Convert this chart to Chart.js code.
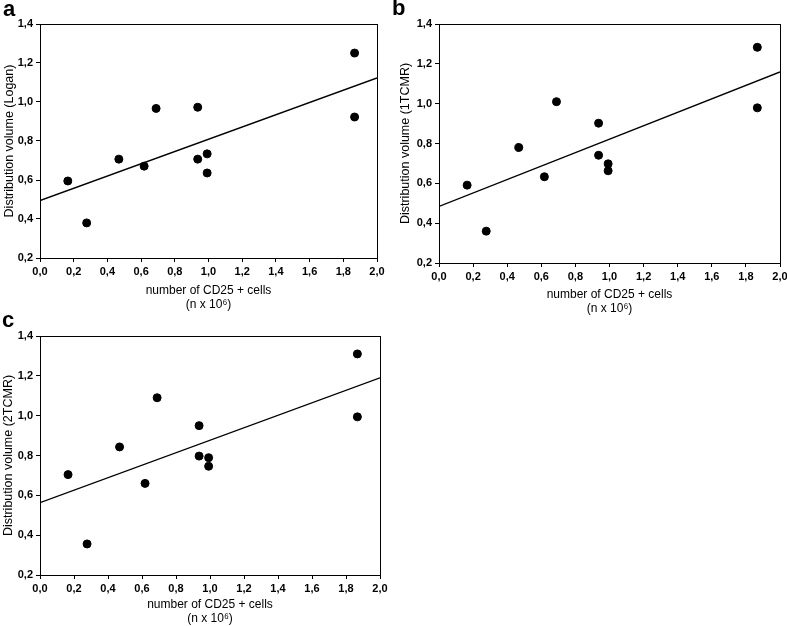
<!DOCTYPE html>
<html>
<head>
<meta charset="utf-8">
<script src="https://cdn.jsdelivr.net/npm/chart.js@4.4.1/dist/chart.umd.min.js"></script>
<style>
  body { margin: 0; background: #fff; }
  #wrap { position: relative; width: 787px; height: 626px; overflow: hidden; }
  canvas { position: absolute; }
  .tag { position: absolute; font: bold 22px "Liberation Sans", Arial, sans-serif; line-height: 22px; color: #000; }
</style>
</head>
<body>
<div id="wrap">
  <canvas id="chartA" width="392" height="312" style="left:0;top:0"></canvas>
  <canvas id="chartB" width="395" height="316" style="left:392px;top:0"></canvas>
  <canvas id="chartC" width="392" height="308" style="left:0;top:318px"></canvas>
  <div class="tag" style="left:3px;top:-2px">a</div>
  <div class="tag" style="left:392px;top:-3px">b</div>
  <div class="tag" style="left:2px;top:309px">c</div>
</div>
<script>
// number of CD25+ cells (n x 10^6), same patients in every panel
const cd25Cells = [0.165, 0.277, 0.468, 0.618, 0.689, 0.936, 0.936, 0.992, 0.992, 1.867, 1.867];

// distribution volumes
const dvLogan = [0.595, 0.380, 0.707, 0.671, 0.967, 0.973, 0.707, 0.734, 0.636, 1.251, 0.923];
const dv1TCMR = [0.591, 0.360, 0.780, 0.633, 1.010, 0.902, 0.741, 0.698, 0.663, 1.283, 0.979];
const dv2TCMR = [0.704, 0.356, 0.843, 0.660, 1.090, 0.950, 0.797, 0.789, 0.746, 1.310, 0.994];

// regression lines (ends at x = 0 and x = 2)
const fitX = [0, 2];
const fitLogan = [0.495, 1.123];
const fit1TCMR = [0.484, 1.159];
const fit2TCMR = [0.563, 1.190];

const xTickVals = [0, 0.2, 0.4, 0.6, 0.8, 1.0, 1.2, 1.4, 1.6, 1.8, 2.0];
const xTickLabels = ['0,0', '0,2', '0,4', '0,6', '0,8', '1,0', '1,2', '1,4', '1,6', '1,8', '2,0'];
const yTickVals = [0.2, 0.4, 0.6, 0.8, 1.0, 1.2, 1.4];
const yTickLabels = ['0,2', '0,4', '0,6', '0,8', '1,0', '1,2', '1,4'];

const xTitle = ['number of CD25 + cells', '(n x 10\u2076)'];
const FONT = '"Liberation Sans", Arial, sans-serif';

// draws the closed frame round the plot area
const frame = {
    id: 'frame',
    afterDraw(chart) {
        const a = chart.chartArea;
        const ctx = chart.ctx;
        ctx.save();
        ctx.strokeStyle = '#000';
        ctx.lineWidth = 1;
        ctx.strokeRect(Math.round(a.left) + 0.5, Math.round(a.top) + 0.5,
            Math.round(a.right - a.left), Math.round(a.bottom - a.top));
        ctx.restore();
    }
};

function makePanel(id, yVals, fitVals, yTitle, box) {
    const points = cd25Cells.map((x, i) => ({ x: x, y: yVals[i] }));
    const line = fitX.map((x, i) => ({ x: x, y: fitVals[i] }));

    new Chart(document.getElementById(id), {
        type: 'scatter',
        data: {
            datasets: [{
                data: points,
                backgroundColor: '#000',
                borderColor: '#000',
                pointRadius: 4,
                pointHoverRadius: 4
            }, {
                type: 'line',
                data: line,
                borderColor: '#000',
                borderWidth: 1.4,
                pointRadius: 0,
                fill: false
            }]
        },
        options: {
            responsive: false,
            animation: false,
            events: [],
            layout: { padding: { top: box.top, right: box.right, left: 0, bottom: 0 } },
            plugins: { legend: { display: false }, tooltip: { enabled: false } },
            scales: {
                x: {
                    type: 'linear',
                    min: 0,
                    max: 2,
                    afterBuildTicks: (s) => { s.ticks = xTickVals.map(v => ({ value: v })); },
                    afterFit: (s) => { s.height = box.xh; s.paddingLeft = 0; s.paddingRight = 0; },
                    ticks: {
                        color: '#000',
                        padding: 3,
                        maxRotation: 0,
                        font: { family: FONT, size: 11, weight: 'bold' },
                        callback: (v, i) => xTickLabels[i]
                    },
                    grid: { drawOnChartArea: false, tickLength: 4, color: '#000' },
                    border: { color: '#000' },
                    title: {
                        display: true,
                        text: xTitle,
                        color: '#000',
                        padding: { top: 0, bottom: 0 },
                        font: { family: FONT, size: 12 }
                    }
                },
                y: {
                    type: 'linear',
                    min: 0.2,
                    max: 1.4,
                    afterBuildTicks: (s) => { s.ticks = yTickVals.map(v => ({ value: v })); },
                    afterFit: (s) => { s.width = box.yw; },
                    ticks: {
                        color: '#000',
                        padding: 3,
                        font: { family: FONT, size: 11, weight: 'bold' },
                        callback: (v, i) => yTickLabels[i]
                    },
                    grid: { drawOnChartArea: false, tickLength: 4, color: '#000' },
                    border: { color: '#000' },
                    title: {
                        display: true,
                        text: yTitle,
                        color: '#000',
                        padding: { top: box.yt, bottom: 0 },
                        font: { family: FONT, size: 12.5 }
                    }
                }
            }
        },
        plugins: [frame]
    });
}

makePanel('chartA', dvLogan, fitLogan, 'Distribution volume (Logan)',
    { top: 24, right: 15, yw: 40, xh: 54, yt: 2 });
makePanel('chartB', dv1TCMR, fit1TCMR, 'Distribution volume (1TCMR)',
    { top: 24, right: 7, yw: 47, xh: 53, yt: 6 });
makePanel('chartC', dv2TCMR, fit2TCMR, 'Distribution volume (2TCMR)',
    { top: 18, right: 12, yw: 40, xh: 51, yt: 1 });
</script>
</body>
</html>
